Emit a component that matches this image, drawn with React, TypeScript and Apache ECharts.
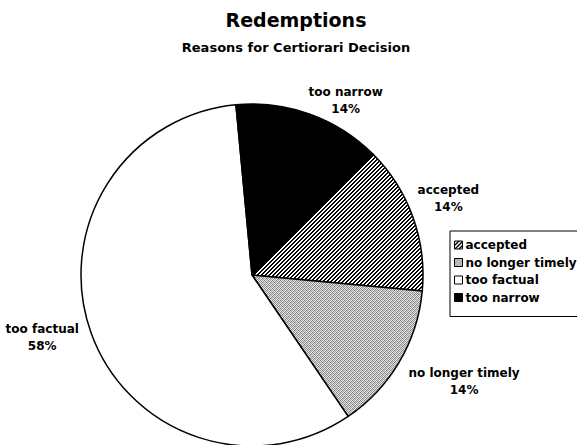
import React, { useEffect, useRef } from 'react';
import * as echarts from 'echarts';

const categories = ['accepted', 'no longer timely', 'too factual', 'too narrow'];
const shares = [14, 14, 58, 14];
const titleText = 'Redemptions';
const subtitleText = 'Reasons for Certiorari Decision';

// label styling (which side of each label box touches its leader point)
const labelVAlign = ['bottom', 'top', 'middle', 'bottom'];
const labelDistance = [5, 5, 13, -4];
const labelGap = [0, 5, 0, 0];

function hatchCanvas(): HTMLCanvasElement {
  const c = document.createElement('canvas');
  c.width = 4;
  c.height = 4;
  const ctx = c.getContext('2d')!;
  ctx.fillStyle = '#ffffff';
  ctx.fillRect(0, 0, 4, 4);
  ctx.fillStyle = '#000000';
  for (let y = 0; y < 4; y++) {
    ctx.fillRect(3 - y, y, 1, 1);
    ctx.fillRect((4 - y) % 4, y, 1, 1);
  }
  return c;
}

function stippleCanvas(): HTMLCanvasElement {
  const grid = [
    [0x80, 0xe0, 0x98, 0xf0],
    [0xd8, 0x90, 0xe8, 0x88],
    [0xa0, 0xf0, 0x78, 0xd0],
    [0xe8, 0x88, 0xd8, 0xa0],
  ];
  const c = document.createElement('canvas');
  c.width = 4;
  c.height = 4;
  const ctx = c.getContext('2d')!;
  for (let y = 0; y < 4; y++) {
    for (let x = 0; x < 4; x++) {
      const v = grid[y][x];
      ctx.fillStyle = `rgb(${v},${v},${v})`;
      ctx.fillRect(x, y, 1, 1);
    }
  }
  return c;
}

export default function App() {
  const ref = useRef<HTMLDivElement>(null);
  useEffect(() => {
    const chart = echarts.init(ref.current!, null, { renderer: 'svg' });
    const font = "'DejaVu Sans', sans-serif";
    const fills: any[] = [
      { image: hatchCanvas(), repeat: 'repeat' },
      { image: stippleCanvas(), repeat: 'repeat' },
      '#ffffff',
      '#000000',
    ];
    chart.setOption({
      animation: false,
      backgroundColor: '#ffffff',
      title: [
        {
          text: titleText,
          left: 296,
          top: 10,
          textAlign: 'center',
          padding: 0,
          textStyle: { fontFamily: font, fontWeight: 'bold', fontSize: 19, color: '#000' },
        },
        {
          text: subtitleText,
          left: 296,
          top: 41,
          textAlign: 'center',
          padding: 0,
          textStyle: { fontFamily: font, fontWeight: 'bold', fontSize: 13, color: '#000' },
        },
      ],
      legend: {
        orient: 'vertical',
        left: 450,
        top: 231,
        padding: [8, 4, 13, 4],
        icon: 'rect',
        itemWidth: 8,
        itemHeight: 8,
        itemGap: 5.5,
        borderColor: '#000',
        borderWidth: 1,
        data: categories,
        selectedMode: false,
        itemStyle: { borderColor: '#000', borderWidth: 1 },
        textStyle: { fontFamily: font, fontWeight: 'bold', fontSize: 12, color: '#000', padding: [0, 0, 0, -2] },
      },
      series: [
        {
          type: 'pie',
          center: [252, 275],
          radius: 171,
          startAngle: 45,
          clockwise: true,
          avoidLabelOverlap: false,
          data: categories.map((name, i) => ({
            name,
            value: shares[i],
            itemStyle: { color: fills[i] },
            label: { distanceToLabelLine: labelGap[i] },
            labelLine: { show: false, length: labelDistance[i], length2: 0 },
          })),
          itemStyle: { borderColor: '#000', borderWidth: 1.5 },
          label: {
            show: true,
            position: 'outside',
            distanceToLabelLine: 0,
            formatter: (p: any) => `{c|${p.name}}\n{c|${Math.round(p.percent)}%}`,
            rich: {
              c: {
                align: 'center',
                fontFamily: font,
                fontWeight: 'bold',
                fontSize: 12,
                color: '#000',
                lineHeight: 17,
              },
            },
          },
          labelLayout: (p: any) => ({ verticalAlign: labelVAlign[p.dataIndex] }),
          labelLine: { show: false, length: 5, length2: 0 },
          emphasis: { disabled: true },
        },
      ],
    });
    return () => chart.dispose();
  }, []);
  return (
    <div
      ref={ref}
      style={{ position: 'fixed', left: 0, top: 0, width: 577, height: 445 }}
    />
  );
}
